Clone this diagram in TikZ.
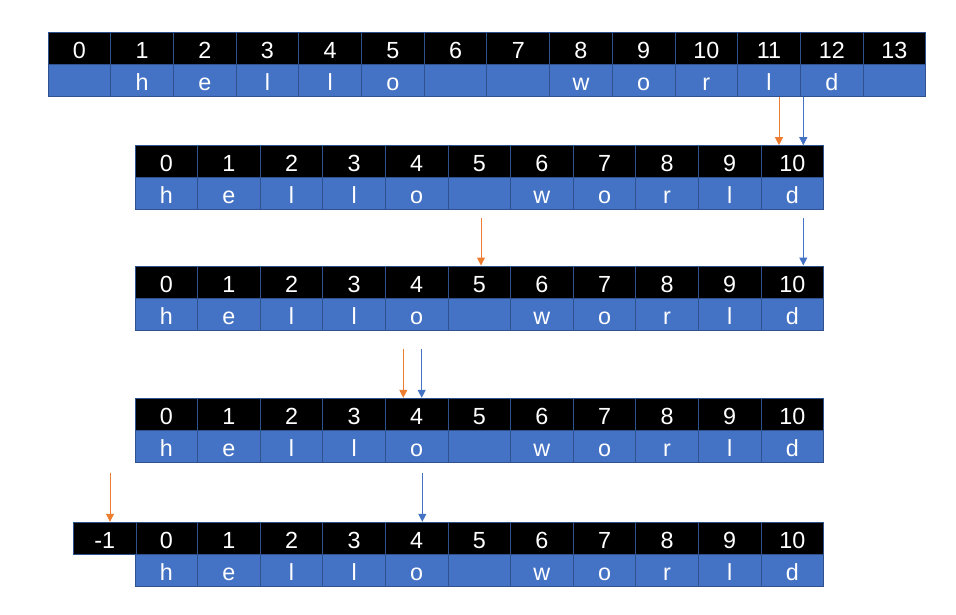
\documentclass[tikz,border=0pt]{standalone}
\usepackage{fontspec}
\setmainfont{Liberation Sans}
\usetikzlibrary{arrows.meta}
\definecolor{cellblue}{HTML}{4472C4}
\definecolor{edgeblue}{HTML}{2F528F}
\definecolor{ptrorange}{HTML}{ED7D31}
\tikzset{
  cellbase/.style={draw=edgeblue, line width=0.75pt, inner sep=0pt, minimum height=24pt,
    text=white, text height=15pt, text depth=0pt, font=\fontsize{17.5}{20}\selectfont},
  idx/.style={cellbase, fill=black},
  chr/.style={cellbase, fill=cellblue},
  ptr/.style={line width=0.75pt, -{Triangle[width=6pt,length=6pt]}},
  ptro/.style={ptr, draw=ptrorange, fill=ptrorange},
  ptrb/.style={ptr, draw=cellblue, fill=cellblue}
}
% #1 name, #2 left, #3 top, #4 cell width (px), #5 letters
\newcommand\drawarr[5]{%
  \foreach \ch [count=\k from 0] in {#5} {
    \node[idx, minimum width={#4*0.75pt}] (#1i\k) at ({#2+#4*\k+#4/2},{#3+16}) {\k};
    \node[chr, minimum width={#4*0.75pt}] (#1c\k) at ({#2+#4*\k+#4/2},{#3+48}) {\ch};
  }}
\begin{document}
\begin{tikzpicture}[x=0.75pt,y=-0.75pt]
\useasboundingbox (0,0) rectangle (956,614);
\drawarr{a}{48}{32.3}{62.7}{{},h,e,l,l,o,{},{},w,o,r,l,d,{}}
\drawarr{b}{135}{145.7}{62.6}{h,e,l,l,o,{},w,o,r,l,d}
\drawarr{c}{135}{266}{62.6}{h,e,l,l,o,{},w,o,r,l,d}
\drawarr{d}{135}{398.3}{62.6}{h,e,l,l,o,{},w,o,r,l,d}
\drawarr{e}{135}{522.3}{62.6}{h,e,l,l,o,{},w,o,r,l,d}
\node[idx, minimum width={63*0.75pt}] (em1) at (104.8,538.3) {-1};
% pointers
\coordinate (p1o) at (779,96.5);
\coordinate (p1b) at (803.3,96.5);
\coordinate (p2o) at (481,218);
\coordinate (p2b) at (803.3,218);
\coordinate (p3o) at (403.3,349.3);
\coordinate (p3b) at (421.7,349.3);
\coordinate (p4o) at (110,473.3);
\coordinate (p4b) at (422.3,473.3);
\draw[ptro] (p1o) -- (p1o |- bi10.north);
\draw[ptrb] (p1b) -- (p1b |- bi10.north);
\draw[ptro] (p2o) -- (p2o |- ci5.north);
\draw[ptrb] (p2b) -- (p2b |- ci10.north);
\draw[ptro] (p3o) -- (p3o |- di4.north);
\draw[ptrb] (p3b) -- (p3b |- di4.north);
\draw[ptro] (p4o) -- (p4o |- em1.north);
\draw[ptrb] (p4b) -- (p4b |- ei4.north);
\end{tikzpicture}
\end{document}
